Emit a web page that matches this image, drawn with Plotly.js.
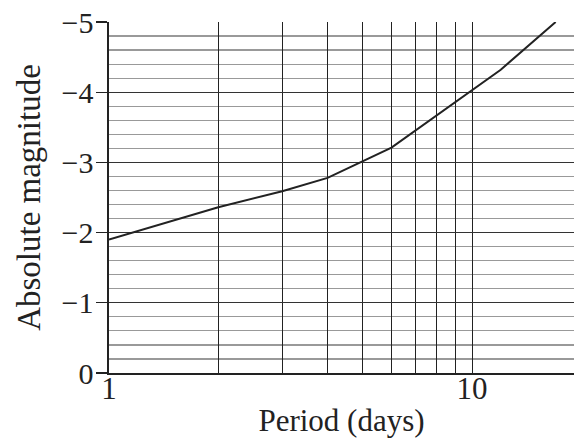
<!DOCTYPE html>
<html>
<head>
<meta charset="utf-8">
<script src="https://cdn.plot.ly/plotly-3.0.1.min.js"></script>
<style>html,body{margin:0;padding:0;background:#fff;}#chart{width:574px;height:441px;}</style>
</head>
<body>
<div id="chart"></div>
<script>
const periodDays = [1, 2, 3, 4, 6, 10, 12, 17];
const absMagnitude = [-1.9, -2.36, -2.59, -2.78, -3.21, -4.03, -4.32, -5.0];
const xTickVals = [1, 2, 3, 4, 5, 6, 7, 8, 9, 10];
const xTickText = ['1', '', '', '', '', '', '', '', '', '10'];
const yTickVals = [0, -1, -2, -3, -4, -5];
const yTickText = ['0', '\u22121', '\u22122', '\u22123', '\u22124', '\u22125'];
const xTitle = 'Period (days)';
const yTitle = 'Absolute magnitude';

const ink = '#222';
const fontFam = 'Liberation Serif, Times New Roman, serif';

Plotly.newPlot('chart', [{
  x: periodDays,
  y: absMagnitude,
  type: 'scatter',
  mode: 'lines',
  line: {color: ink, width: 2},
  hoverinfo: 'skip'
}], {
  width: 574, height: 441,
  margin: {l: 109, r: 0, t: 22, b: 68, pad: 0},
  paper_bgcolor: '#fff', plot_bgcolor: '#fff',
  showlegend: false,
  font: {family: fontFam, color: ink, size: 31},
  xaxis: {
    type: 'log',
    range: [0, 1.281],
    tickmode: 'array', tickvals: xTickVals, ticktext: xTickText,
    ticks: '', showgrid: true, gridcolor: '#222', gridwidth: 1,
    showline: true, linecolor: ink, linewidth: 1.6,
    zeroline: false,
    ticklabelstandoff: -13,
    tickfont: {size: 31, family: fontFam, color: ink},
    title: {text: xTitle, font: {size: 31, family: fontFam, color: ink}, standoff: 4}
  },
  yaxis: {
    range: [0, -5],
    tickmode: 'array', tickvals: yTickVals, ticktext: yTickText,
    ticks: 'outside', ticklen: 11, tickcolor: ink, tickwidth: 1.3,
    showgrid: true, gridcolor: '#333', gridwidth: 1.3,
    minor: {dtick: 0.2, tick0: 0, showgrid: true, gridcolor: '#999', gridwidth: 1.2, ticks: ''},
    showline: true, linecolor: ink, linewidth: 1.6,
    zeroline: false,
    ticklabelstandoff: -3,
    tickfont: {size: 30, family: fontFam, color: ink},
    title: {text: yTitle, font: {size: 33, family: fontFam, color: ink}, standoff: 11}
  }
}, {staticPlot: true});
</script>
</body>
</html>
